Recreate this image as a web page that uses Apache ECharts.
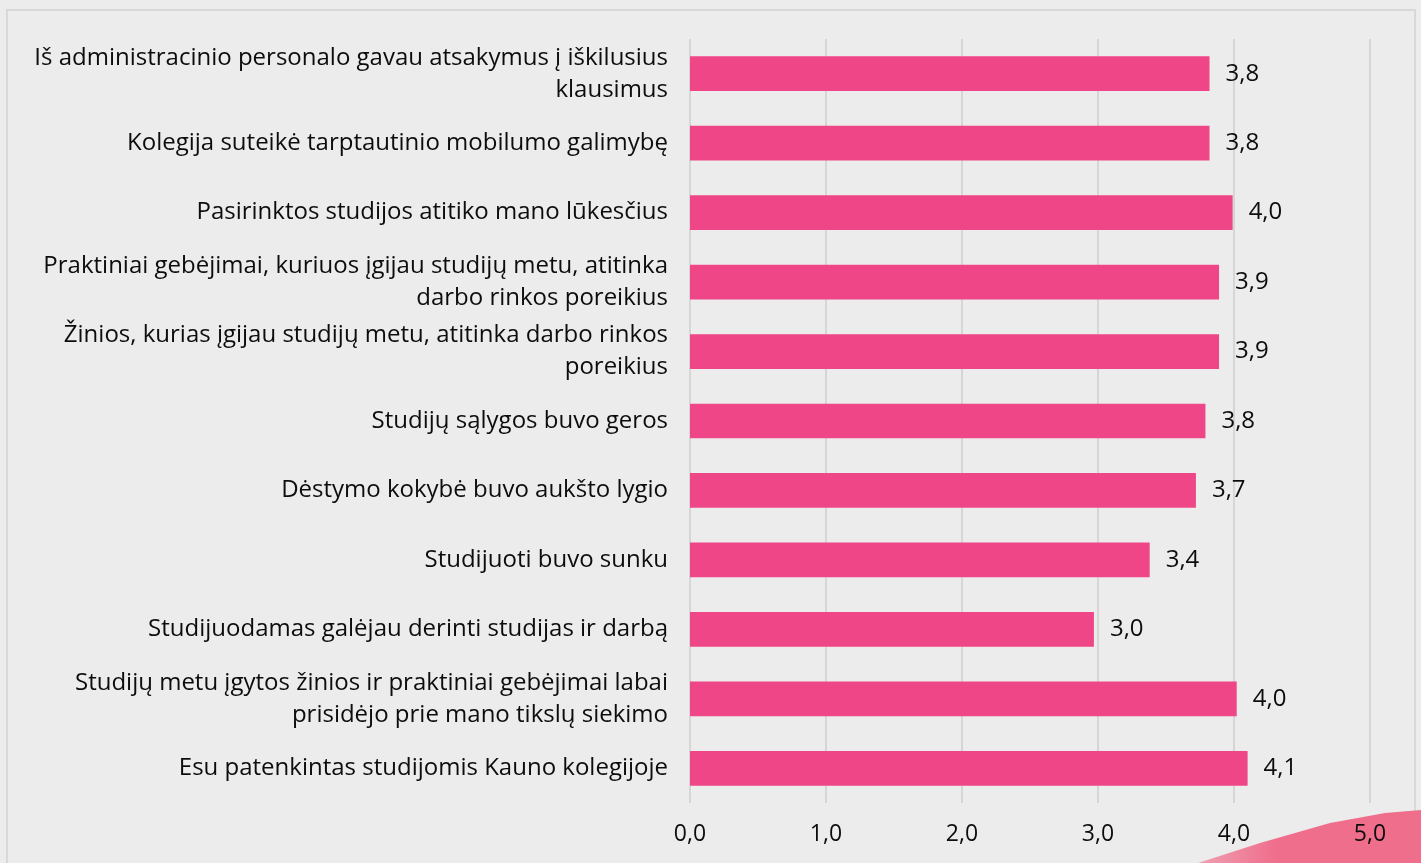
<!DOCTYPE html>
<html>
<head>
<meta charset="utf-8">
<script src="https://cdn.jsdelivr.net/npm/echarts@6/dist/echarts.min.js"></script>
<style>
  html, body { margin: 0; padding: 0; background: #ececec; }
  #chart { width: 1421px; height: 863px; }
</style>
</head>
<body>
<div id="chart"></div>
<script>
// top to bottom
const categories = [
  'Iš administracinio personalo gavau atsakymus į iškilusius\nklausimus',
  'Kolegija suteikė tarptautinio mobilumo galimybę',
  'Pasirinktos studijos atitiko mano lūkesčius',
  'Praktiniai gebėjimai, kuriuos įgijau studijų metu, atitinka\ndarbo rinkos poreikius',
  'Žinios, kurias įgijau studijų metu, atitinka darbo rinkos\nporeikius',
  'Studijų sąlygos buvo geros',
  'Dėstymo kokybė buvo aukšto lygio',
  'Studijuoti buvo sunku',
  'Studijuodamas galėjau derinti studijas ir darbą',
  'Studijų metu įgytos žinios ir praktiniai gebėjimai labai\nprisidėjo prie mano tikslų siekimo',
  'Esu patenkintas studijomis Kauno kolegijoje'
]
const scores = [3.82, 3.82, 3.99, 3.89, 3.89, 3.79, 3.72, 3.38, 2.97, 4.02, 4.10]
const xTicks = { min: 0, max: 5, step: 1 }

const fmt = v => v.toFixed(1).replace('.', ',')
const font = '"Open Sans", "Noto Sans", sans-serif'

const chart = echarts.init(document.getElementById('chart'))
chart.setOption({
  backgroundColor: '#ececec',
  animation: false,
  textStyle: { fontFamily: font },
  grid: { left: 690, right: 51, top: 39, bottom: 60 },
  xAxis: {
    type: 'value',
    min: xTicks.min,
    max: xTicks.max,
    interval: xTicks.step,
    axisLine: { show: false },
    axisTick: { show: false },
    axisLabel: {
      formatter: fmt,
      fontSize: 23,
      color: '#0d0d0d',
      fontFamily: font,
      margin: 20
    },
    splitLine: { lineStyle: { color: '#d6d6d6', width: 2 } }
  },
  yAxis: {
    type: 'category',
    inverse: true,
    data: categories,
    axisLine: { show: false },
    axisTick: { show: false },
    axisLabel: {
      fontSize: 24,
      lineHeight: 32,
      color: '#0d0d0d',
      fontFamily: font,
      margin: 22,
      align: 'right'
    }
  },
  series: [{
    type: 'bar',
    data: scores,
    barCategoryGap: '50%',
    itemStyle: { color: '#ef4687' },
    label: {
      show: true,
      position: 'right',
      distance: 16,
      fontSize: 24,
      color: '#0d0d0d',
      fontFamily: font,
      formatter: p => fmt(p.value)
    }
  }],
  graphic: [
    {
      type: 'rect',
      shape: { x: 7, y: 10, width: 1408, height: 900 },
      style: { fill: 'none', stroke: '#d8d8d8', lineWidth: 2 },
      z: -1,
      silent: true
    },
    {
      type: 'polygon',
      shape: {
        points: [[1198, 863], [1260, 843], [1330, 823], [1385, 813], [1421, 810], [1421, 863]]
      },
      style: {
        fill: new echarts.graphic.LinearGradient(0, 0, 1, 0, [
          { offset: 0, color: 'rgba(240,110,140,0.6)' },
          { offset: 0.35, color: '#ef6e8c' },
          { offset: 1, color: '#ef6e8c' }
        ])
      },
      z: -1,
      silent: true
    }
  ]
})
</script>
</body>
</html>
